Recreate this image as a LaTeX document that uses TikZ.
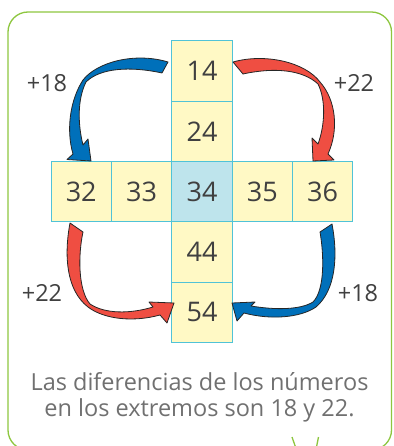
\documentclass[tikz,border=0pt]{standalone}
\usepackage{fontspec}
\setmainfont{Open Sans}
\definecolor{framegreen}{RGB}{141,198,63}
\definecolor{cellline}{RGB}{80,195,215}
\definecolor{cellfill}{RGB}{255,249,197}
\definecolor{cellblue}{RGB}{190,228,236}
\definecolor{numtext}{RGB}{64,64,64}
\definecolor{notetext}{RGB}{112,112,112}
\definecolor{arrblue}{RGB}{0,112,186}
\definecolor{arrred}{RGB}{239,78,66}
\begin{document}
\begin{tikzpicture}[x=1pt,y=-1pt,
  cell/.style={draw=cellline, fill=cellfill, line width=0.9pt,
    minimum width=60.4pt, minimum height=60.4pt, inner sep=0pt,
    text=numtext, font=\fontsize{27}{32}\selectfont},
  centercell/.style={cell, fill=cellblue},
  steplabel/.style={anchor=base, text=numtext, inner sep=0pt,
    font=\fontsize{23.5}{28}\selectfont},
  bluearrow/.style={fill=arrblue, draw=black!85, line width=0.8pt, line join=round},
  redarrow/.style={fill=arrred, draw=black!85, line width=0.8pt, line join=round},
  framestyle/.style={draw=framegreen, line width=1.3pt}]
\useasboundingbox (0,0) rectangle (393,446);
% frame
\draw[framestyle, rounded corners=20pt] (8,12) rectangle (391.5,450);
\draw[framestyle] (292,437) -- (295.5,447);
\draw[framestyle] (318.5,437) -- (316.5,447);
% cells
\node[cell] (c14) at (202,71) {14};
\node[cell] (c24) at (202,131.3) {24};
\node[cell] (c32) at (81.2,191.6) {32};
\node[cell] (c33) at (141.5,191.6) {33};
\node[centercell] (c34) at (202,191.6) {34};
\node[cell] (c35) at (262.3,191.6) {35};
\node[cell] (c36) at (322.6,191.6) {36};
\node[cell] (c44) at (202,252) {44};
\node[cell] (c54) at (202,312.3) {54};
% arrows
\filldraw[bluearrow] (168,62) .. controls (135,52) and (97,62) .. (83,80)
  .. controls (70,100) and (66,130) .. (73,154) -- (67,159.5) -- (91,161) -- (88,139) -- (83,145)
  .. controls (78,125) and (77,100) .. (86,82) .. controls (100,68) and (130,66) .. (162,73) -- cycle;
\filldraw[redarrow] (233,62) .. controls (265,53) and (305,62) .. (320,82)
  .. controls (336,100) and (339,130) .. (328,154) -- (334,160) -- (313,161) -- (312,138) -- (318,144)
  .. controls (325,125) and (326,100) .. (318,84) .. controls (303,70) and (275,67) .. (243,74) -- cycle;
\filldraw[redarrow] (70,223) .. controls (64,255) and (66,290) .. (88,307)
  .. controls (105,320) and (135,322) .. (160,315) -- (167,323) -- (174,303) -- (149,302) -- (153,307)
  .. controls (130,314) and (105,314) .. (90,304) .. controls (78,290) and (78,255) .. (83,232) -- cycle;
\filldraw[bluearrow] (332,224) .. controls (338,255) and (336,290) .. (316,307)
  .. controls (300,318) and (270,320) .. (244,313) -- (237,321) -- (232,303) -- (255,302) -- (251,306)
  .. controls (275,310) and (300,310) .. (313,302) .. controls (325,290) and (324,255) .. (320,232) -- cycle;
% labels
\node[steplabel] (l1) at (47,92) {+18};
\node[steplabel] (l2) at (354,92) {+22};
\node[steplabel] (l3) at (42,301.5) {+22};
\node[steplabel] (l4) at (358,301.5) {+18};
% note
\node[anchor=base, text=notetext, inner sep=0pt, align=center,
  font=\fontsize{23.5}{26.7}\selectfont] (note) at (199.5,416.7)
  {Las diferencias de los números\\en los extremos son 18 y 22.};
\end{tikzpicture}
\end{document}
